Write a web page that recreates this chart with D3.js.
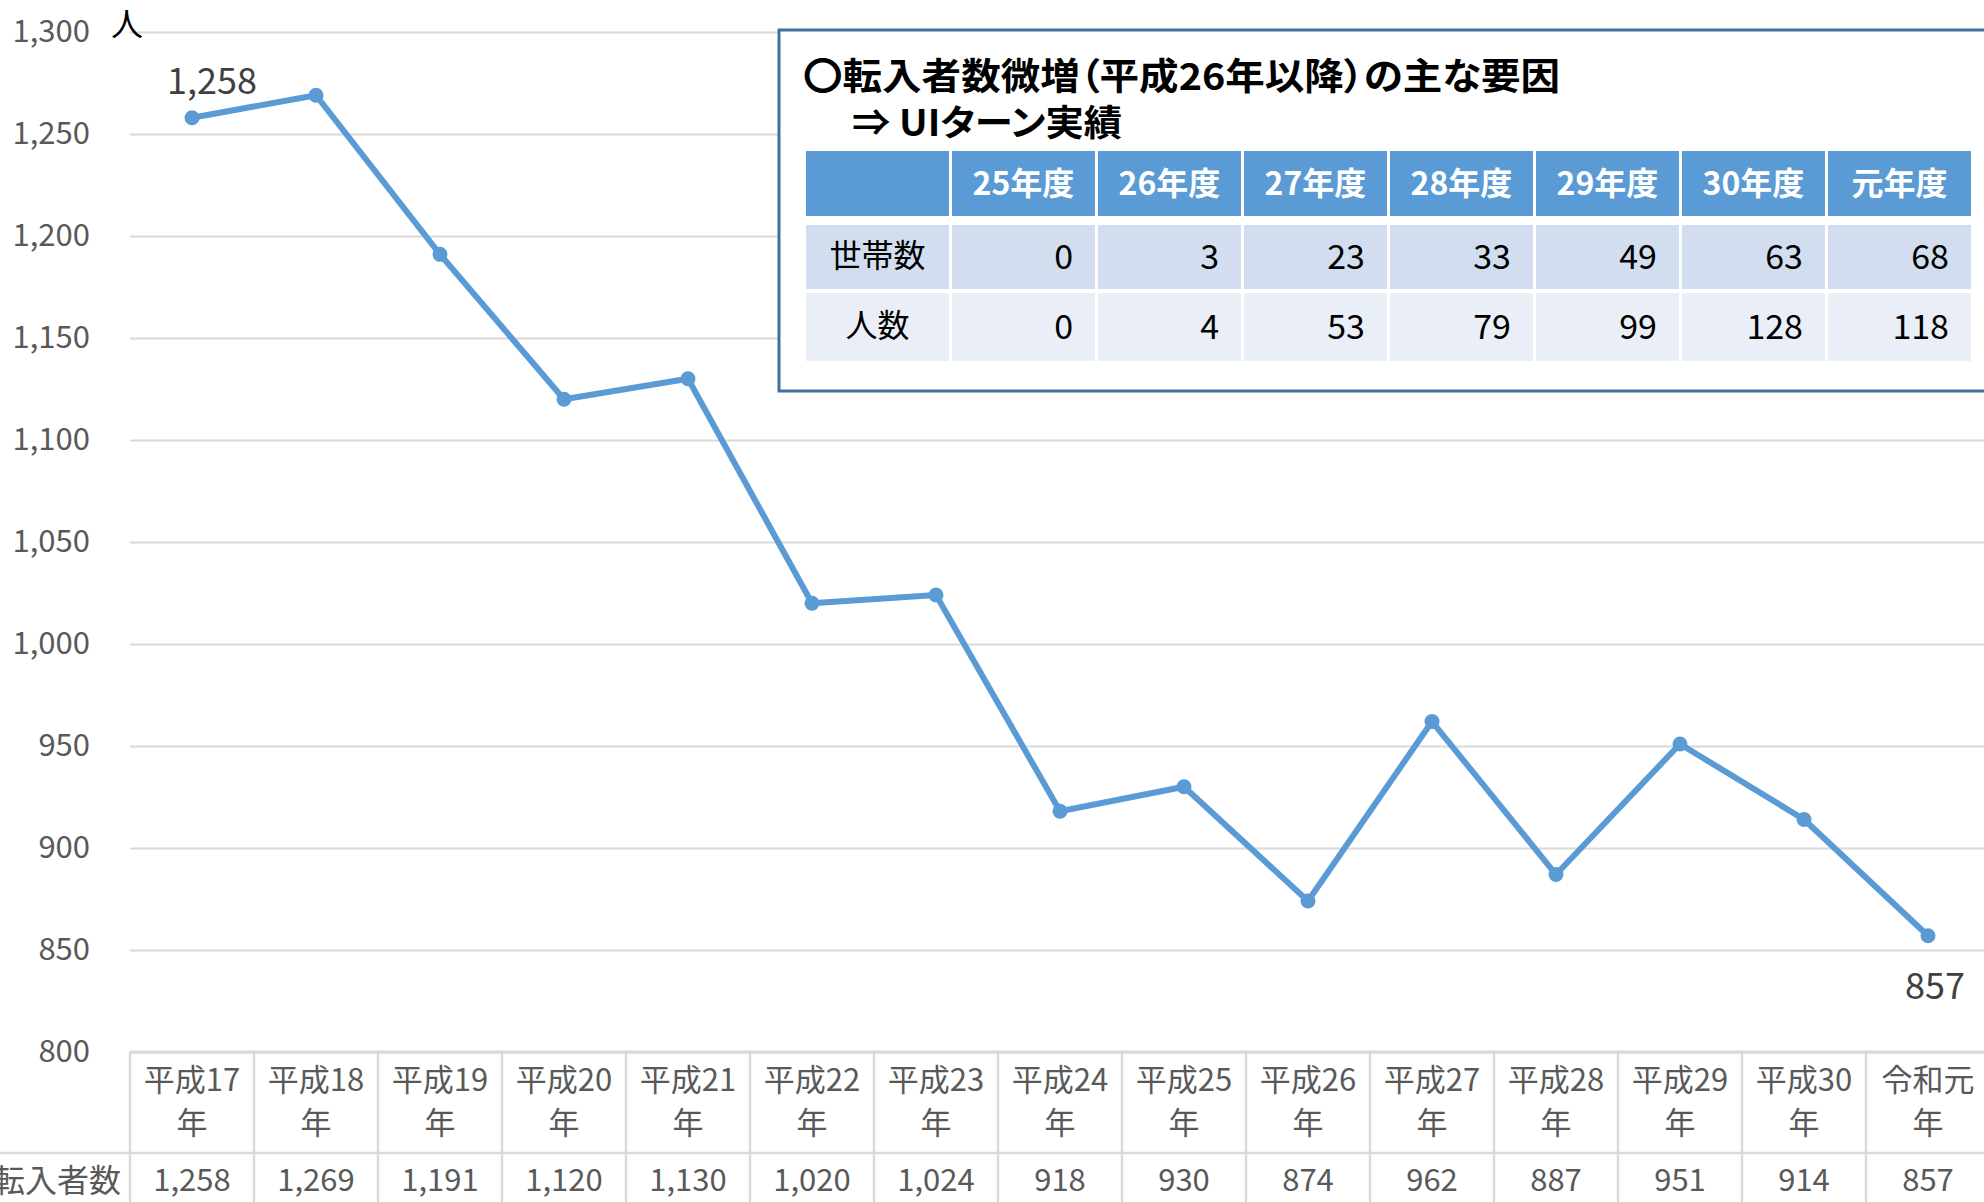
<!DOCTYPE html>
<html><head><meta charset="utf-8">
<script src="https://cdn.jsdelivr.net/npm/d3@7"></script>
<style>
body{margin:0;background:#fff;overflow:hidden}
svg{display:block}
text{font-family:"Noto Sans CJK JP","Noto Sans",sans-serif}
</style>
</head><body>
<svg id="c" width="1984" height="1202"></svg>
<script>
// ---- data ----
const categories = ["平成17年","平成18年","平成19年","平成20年","平成21年","平成22年","平成23年","平成24年","平成25年","平成26年","平成27年","平成28年","平成29年","平成30年","令和元年"];
const values = [1258,1269,1191,1120,1130,1020,1024,918,930,874,962,887,951,914,857];
const yTicks = [800,850,900,950,1000,1050,1100,1150,1200,1250,1300];
const labeledIndexes = [0,14];
const unitLabel = "人";
const rowHeaderLabel = "転入者数";
const insetTitle = "〇転入者数微増（平成26年以降）の主な要因";
const insetSubtitle = "⇒ UIターン実績";
const insetHeaders = ["25年度","26年度","27年度","28年度","29年度","30年度","元年度"];
const insetRowLabels = ["世帯数","人数"];
const households = [0,3,23,33,49,63,68];
const persons = [0,4,53,79,99,128,118];

// ---- layout ----
const svg = d3.select("#c");
const pLeft = 130, pRight = 1990, pTop = 32, pBottom = 1052;
const x = d3.scaleBand().domain(categories).range([pLeft,pRight]);
const y = d3.scaleLinear().domain([800,1300]).range([pBottom,pTop]);
const fmt = d3.format(",");
const grey = "#595959", gridC = "#D9D9D9", blue = "#5B9BD5";

// gridlines
const grid = svg.append("g").attr("transform",`translate(${pLeft},0)`)
  .call(d3.axisLeft(y).tickValues(yTicks).tickSize(-(pRight-pLeft)).tickFormat(""));
grid.select(".domain").remove();
grid.selectAll("line").attr("stroke",gridC).attr("stroke-width",2);

// y tick labels
const ya = svg.append("g").attr("transform",`translate(${pLeft},0)`)
  .call(d3.axisLeft(y).tickValues(yTicks).tickSize(0).tickPadding(40).tickFormat(fmt));
ya.select(".domain").remove();
ya.selectAll("text").attr("fill",grey).style("font-size","31px").style("font-family",'"Noto Sans CJK JP",sans-serif');

svg.append("text").attr("x",127).attr("y",36).attr("text-anchor","middle")
  .attr("fill","#000").style("font-size","32px").text(unitLabel);

// data table under axis
const tblTop = pBottom, rowSep = 1153, tblBot = 1210;
const tg = svg.append("g");
tg.append("line").attr("x1",pLeft).attr("x2",pRight).attr("y1",tblTop).attr("y2",tblTop).attr("stroke",gridC).attr("stroke-width",3);
tg.append("line").attr("x1",0).attr("x2",pRight).attr("y1",rowSep).attr("y2",rowSep).attr("stroke",gridC).attr("stroke-width",2.5);
const bounds = categories.map(c=>x(c)).concat([pRight]);
tg.selectAll("line.v").data(bounds).join("line").attr("class","v")
  .attr("x1",d=>d).attr("x2",d=>d).attr("y1",tblTop).attr("y2",tblBot)
  .attr("stroke",gridC).attr("stroke-width",2.5);
const cx = c => x(c)+x.bandwidth()/2;
tg.selectAll("text.c1").data(categories).join("text").attr("class","c1")
  .attr("x",cx).attr("y",1091).attr("text-anchor","middle").attr("fill",grey)
  .style("font-size","31px").text(d=>d.slice(0,-1));
tg.selectAll("text.c2").data(categories).join("text").attr("class","c2")
  .attr("x",cx).attr("y",1134).attr("text-anchor","middle").attr("fill",grey)
  .style("font-size","31px").text(d=>d.slice(-1));
tg.selectAll("text.v").data(values).join("text").attr("class","v")
  .attr("x",(d,i)=>cx(categories[i])).attr("y",1191).attr("text-anchor","middle").attr("fill",grey)
  .style("font-size","31px").text(d=>fmt(d));
tg.append("text").attr("x",121).attr("y",1192).attr("text-anchor","end").attr("fill",grey)
  .style("font-size","32px").text(rowHeaderLabel);

// line
const line = d3.line().x((d,i)=>cx(categories[i])).y(d=>y(d));
svg.append("path").datum(values).attr("d",line).attr("fill","none")
  .attr("stroke",blue).attr("stroke-width",6).attr("stroke-linejoin","round");
svg.selectAll("circle.p").data(values).join("circle").attr("class","p")
  .attr("cx",(d,i)=>cx(categories[i])).attr("cy",d=>y(d)).attr("r",7.5).attr("fill",blue);

// data labels
const lblOff = {0:[20,-24],14:[7,63]};
svg.selectAll("text.dl").data(labeledIndexes).join("text").attr("class","dl")
  .attr("x",i=>cx(categories[i])+lblOff[i][0]).attr("y",i=>y(values[i])+lblOff[i][1])
  .attr("text-anchor","middle").attr("fill","#404040").style("font-size","36px")
  .text(i=>fmt(values[i]));

// inset box
const box = svg.append("g");
box.append("rect").attr("x",779).attr("y",30).attr("width",1300).attr("height",361)
  .attr("fill","#fff").attr("stroke","#41719C").attr("stroke-width",3);
box.append("text").attr("x",803).attr("y",90).attr("fill","#000").style("font-size","37px")
  .style("font-weight","bold").style("font-feature-settings",'"palt"')
  .attr("textLength",757).attr("lengthAdjust","spacingAndGlyphs").text(insetTitle);
box.append("text").attr("x",852).attr("y",136).attr("fill","#000").style("font-size","36px")
  .style("font-weight","bold").style("font-feature-settings",'"palt"')
  .attr("textLength",270).attr("lengthAdjust","spacingAndGlyphs").text(insetSubtitle);

const colX = d3.scaleBand().domain(insetHeaders).range([952,1974]);
const rows = [{label:null,vals:insetHeaders,y0:151,y1:216,fill:blue},
              {label:insetRowLabels[0],vals:households,y0:225,y1:289,fill:"#D2DEEF"},
              {label:insetRowLabels[1],vals:persons,y0:293,y1:361,fill:"#EAEFF7"}];
rows.forEach((r,ri)=>{
  const g = box.append("g");
  g.append("rect").attr("x",806).attr("y",r.y0).attr("width",143).attr("height",r.y1-r.y0).attr("fill",r.fill);
  g.selectAll("rect.cell").data(insetHeaders).join("rect").attr("class","cell")
    .attr("x",d=>colX(d)).attr("y",r.y0).attr("width",colX.bandwidth()-3).attr("height",r.y1-r.y0).attr("fill",r.fill);
  const mid = (r.y0+r.y1)/2;
  if(ri===0){
    g.selectAll("text.h").data(r.vals).join("text").attr("class","h")
      .attr("x",(d,i)=>colX(insetHeaders[i])+(colX.bandwidth()-3)/2).attr("y",mid+11)
      .attr("text-anchor","middle").attr("fill","#fff").style("font-size","32px").style("font-weight","bold").text(d=>d);
  } else {
    g.append("text").attr("x",877.5).attr("y",mid+10).attr("text-anchor","middle").attr("fill","#000")
      .style("font-size","32px").text(r.label);
    g.selectAll("text.n").data(r.vals).join("text").attr("class","n")
      .attr("x",(d,i)=>colX(insetHeaders[i])+colX.bandwidth()-3-22).attr("y",mid+12)
      .attr("text-anchor","end").attr("fill","#000").style("font-size","34px").text(d=>d);
  }
});
</script>
</body></html>
